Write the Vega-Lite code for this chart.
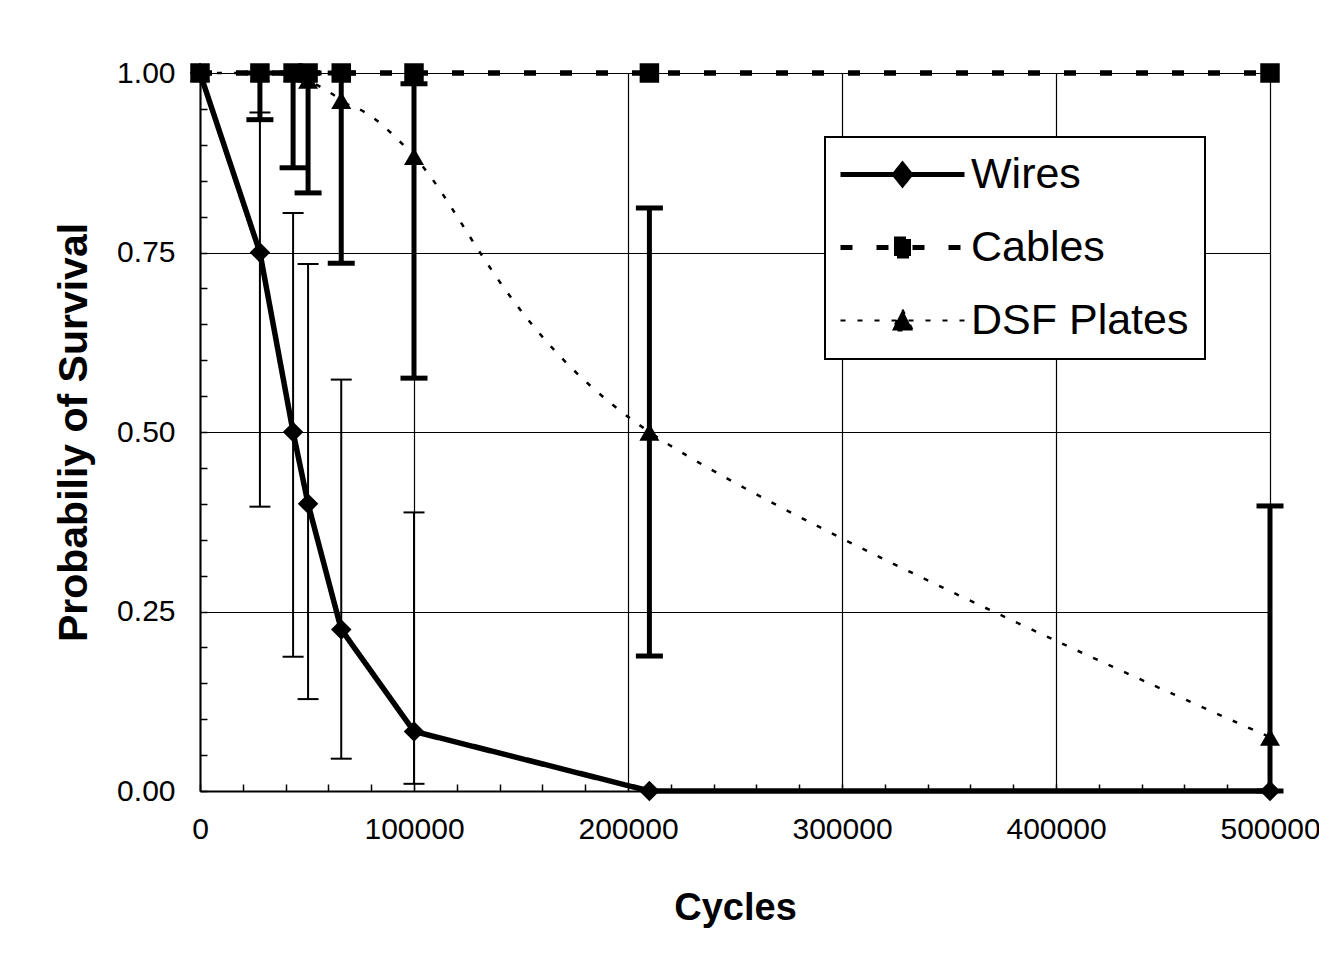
{
  "$schema": "https://vega.github.io/schema/vega-lite/v6.json",
  "width": 1070,
  "height": 718,
  "autosize": {"type": "none"},
  "padding": {"left": 200, "top": 73, "right": 49, "bottom": 181},
  "background": "white",
  "config": {
    "view": {"stroke": null},
    "font": "Liberation Sans",
    "axis": {"labelFont": "Liberation Sans", "titleFont": "Liberation Sans"},
    "legend": {"labelFont": "Liberation Sans"}
  },
  "datasets": {
    "pts": [
      {"series": "Wires", "x": 0, "y": 1.0},
      {"series": "Wires", "x": 28000, "y": 0.75},
      {"series": "Wires", "x": 43500, "y": 0.5},
      {"series": "Wires", "x": 50500, "y": 0.4},
      {"series": "Wires", "x": 66000, "y": 0.225},
      {"series": "Wires", "x": 100000, "y": 0.083},
      {"series": "Wires", "x": 210000, "y": 0.0},
      {"series": "Wires", "x": 500000, "y": 0.0},
      {"series": "Cables", "x": 0, "y": 1.0},
      {"series": "Cables", "x": 28000, "y": 1.0},
      {"series": "Cables", "x": 43500, "y": 1.0},
      {"series": "Cables", "x": 50500, "y": 1.0},
      {"series": "Cables", "x": 66000, "y": 1.0},
      {"series": "Cables", "x": 100000, "y": 1.0},
      {"series": "Cables", "x": 210000, "y": 1.0},
      {"series": "Cables", "x": 500000, "y": 1.0},
      {"series": "DSF Plates", "x": 0, "y": 1.0},
      {"series": "DSF Plates", "x": 28000, "y": 1.0},
      {"series": "DSF Plates", "x": 43500, "y": 1.0},
      {"series": "DSF Plates", "x": 50500, "y": 0.99},
      {"series": "DSF Plates", "x": 66000, "y": 0.962},
      {"series": "DSF Plates", "x": 100000, "y": 0.884},
      {"series": "DSF Plates", "x": 210000, "y": 0.5},
      {"series": "DSF Plates", "x": 500000, "y": 0.075}
    ],
    "err": [
      {"series": "Wires", "x": 28000, "lo": 0.396, "hi": 0.945},
      {"series": "Wires", "x": 43500, "lo": 0.187, "hi": 0.805},
      {"series": "Wires", "x": 50500, "lo": 0.128, "hi": 0.734},
      {"series": "Wires", "x": 66000, "lo": 0.045, "hi": 0.573},
      {"series": "Wires", "x": 100000, "lo": 0.01, "hi": 0.388},
      {"series": "DSF Plates", "x": 28000, "lo": 0.935, "hi": 1.0},
      {"series": "DSF Plates", "x": 43500, "lo": 0.868, "hi": 1.0},
      {"series": "DSF Plates", "x": 50500, "lo": 0.833, "hi": 1.0},
      {"series": "DSF Plates", "x": 66000, "lo": 0.735, "hi": 1.0},
      {"series": "DSF Plates", "x": 100000, "lo": 0.575, "hi": 0.985},
      {"series": "DSF Plates", "x": 210000, "lo": 0.188, "hi": 0.812},
      {"series": "DSF Plates", "x": 500000, "lo": 0.0, "hi": 0.397}
    ]
  },
  "layer": [
    {
      "data": {"name": "err"},
      "transform": [{"filter": "datum.series === 'Wires'"}],
      "mark": {"type": "rule", "color": "black", "strokeWidth": 2},
      "encoding": {
        "x": {
          "field": "x", "type": "quantitative", "title": "Cycles",
          "scale": {"domain": [0, 500000], "nice": false, "zero": false},
          "axis": {
            "title": "Cycles",
            "values": [0, 20000, 40000, 60000, 80000, 100000, 120000, 140000, 160000, 180000, 200000, 220000, 240000, 260000, 280000, 300000, 320000, 340000, 360000, 380000, 400000, 420000, 440000, 460000, 480000, 500000],
            "tickCount": 100,
            "format": "d",
            "labelExpr": "datum.value % 100000 === 0 ? datum.label : ''",
            "labelOverlap": false,
            "labelFlush": false,
            "labelFontSize": 30,
            "labelColor": "black",
            "labelPadding": 30,
            "grid": true,
            "gridColor": "black",
            "gridWidth": 1.2,
            "gridOpacity": {"condition": {"test": "datum.value % 100000 === 0", "value": 1}, "value": 0},
            "tickSize": -7,
            "tickColor": "black",
            "tickWidth": 1.5,
            "domainColor": "black",
            "domainWidth": 2,
            "titleFontSize": 38,
            "titleFontWeight": "bold",
            "titleColor": "black",
            "titlePadding": 45
          }
        },
        "y": {
          "field": "lo", "type": "quantitative", "title": "Probabiliy of Survival",
          "scale": {"domain": [0, 1], "nice": false, "zero": false},
          "axis": {
            "title": "Probabiliy of Survival",
            "values": [0, 0.05, 0.1, 0.15, 0.2, 0.25, 0.3, 0.35, 0.4, 0.45, 0.5, 0.55, 0.6, 0.65, 0.7, 0.75, 0.8, 0.85, 0.9, 0.95, 1],
            "tickCount": 100,
            "labelExpr": "round(datum.value * 100) % 25 === 0 ? format(datum.value, '.2f') : ''",
            "labelOverlap": false,
            "labelFlush": false,
            "labelFontSize": 30,
            "labelColor": "black",
            "labelPadding": 32,
            "grid": true,
            "gridColor": "black",
            "gridWidth": 1.2,
            "gridOpacity": {"condition": {"test": "round(datum.value * 100) % 25 === 0", "value": 1}, "value": 0},
            "tickSize": -7,
            "tickColor": "black",
            "tickWidth": 1.5,
            "domainColor": "black",
            "domainWidth": 2,
            "titleFontSize": 41,
            "titleFontWeight": "bold",
            "titleColor": "black",
            "titlePadding": 21
          }
        },
        "y2": {"field": "hi"}
      }
    },
    {
      "data": {"name": "err"},
      "transform": [{"filter": "datum.series === 'DSF Plates'"}],
      "mark": {"type": "rule", "color": "black", "strokeWidth": 5},
      "encoding": {
        "x": {"field": "x", "type": "quantitative", "title": "Cycles"},
        "y": {"field": "lo", "type": "quantitative", "title": "Probabiliy of Survival"},
        "y2": {"field": "hi"}
      }
    },
    {
      "data": {"name": "err"},
      "transform": [
        {"filter": "datum.series === 'Wires'"},
        {"fold": ["lo", "hi"], "as": ["end", "val"]}
      ],
      "mark": {"type": "tick", "orient": "horizontal", "color": "black", "size": 21, "thickness": 2, "opacity": 1},
      "encoding": {
        "x": {"field": "x", "type": "quantitative", "title": "Cycles"},
        "y": {"field": "val", "type": "quantitative", "title": "Probabiliy of Survival"}
      }
    },
    {
      "data": {"name": "err"},
      "transform": [
        {"filter": "datum.series === 'DSF Plates'"},
        {"fold": ["lo", "hi"], "as": ["end", "val"]}
      ],
      "mark": {"type": "tick", "orient": "horizontal", "color": "black", "size": 27, "thickness": 5, "opacity": 1},
      "encoding": {
        "x": {"field": "x", "type": "quantitative", "title": "Cycles"},
        "y": {"field": "val", "type": "quantitative", "title": "Probabiliy of Survival"}
      }
    },
    {
      "data": {"name": "pts"},
      "transform": [{"filter": "datum.series === 'DSF Plates'"}],
      "mark": {"type": "line", "interpolate": "cardinal", "color": "black", "strokeWidth": 2.5, "strokeCap": "butt"},
      "encoding": {
        "x": {"field": "x", "type": "quantitative", "title": "Cycles"},
        "y": {"field": "y", "type": "quantitative", "title": "Probabiliy of Survival"},
        "strokeDash": {
          "field": "series", "type": "nominal", "title": null,
          "scale": {"domain": ["Wires", "Cables", "DSF Plates"], "range": [[1, 0], [12, 24], [5, 12]]}
        }
      }
    },
    {
      "data": {"name": "pts"},
      "transform": [{"filter": "datum.series !== 'DSF Plates'"}],
      "mark": {"type": "line", "color": "black", "strokeWidth": 5.5, "strokeCap": "butt"},
      "encoding": {
        "x": {"field": "x", "type": "quantitative", "title": "Cycles"},
        "y": {"field": "y", "type": "quantitative", "title": "Probabiliy of Survival"},
        "strokeDash": {
          "field": "series", "type": "nominal", "title": null,
          "scale": {"domain": ["Wires", "Cables", "DSF Plates"], "range": [[1, 0], [12, 24], [5, 12]]},
          "legend": {
            "orient": "none",
            "legendX": 625,
            "legendY": 64,
            "title": null,
            "direction": "vertical",
            "padding": 16,
            "strokeColor": "black",
            "fillColor": "white",
            "labelFontSize": 43,
            "labelColor": "black",
            "labelLimit": 400,
            "symbolOffset": 40,
            "labelOffset": 47,
            "rowPadding": 29,
            "symbolSize": 400,
            "symbolStrokeColor": "black",
            "symbolFillColor": "black",
            "symbolStrokeWidth": 5,
            "encode": {
              "legend": {"update": {"strokeWidth": {"value": 2}}},
              "symbols": {
                "update": {
                  "shape": {"signal": "datum.value === 'Wires' ? 'M-6.2,0H6.2M0,-1L0.8,0L0,1L-0.8,0Z' : datum.value === 'Cables' ? 'M-6.2,0H6.2M-0.85,-0.85H0.85V0.85H-0.85Z' : 'M-6.2,0H6.2M0,-1.1L1.05,1L-1.05,1Z'"},
                  "size": {"value": 400},
                  "strokeWidth": {"signal": "datum.value === 'DSF Plates' ? 2 : 5"},
                  "strokeDash": {"signal": "datum.value === 'Wires' ? [1, 0] : datum.value === 'Cables' ? [12, 24] : [5, 12]"},
                  "fill": {"value": "black"},
                  "stroke": {"value": "black"},
                  "opacity": {"value": 1}
                }
              }
            }
          }
        }
      }
    },
    {
      "data": {"name": "pts"},
      "transform": [{"filter": "datum.series === 'Wires'"}],
      "mark": {"type": "point", "filled": true, "color": "black", "opacity": 1, "shape": "diamond", "size": 420},
      "encoding": {
        "x": {"field": "x", "type": "quantitative", "title": "Cycles"},
        "y": {"field": "y", "type": "quantitative", "title": "Probabiliy of Survival"}
      }
    },
    {
      "data": {"name": "pts"},
      "transform": [{"filter": "datum.series === 'Cables'"}],
      "mark": {"type": "point", "filled": true, "color": "black", "opacity": 1, "shape": "square", "size": 380},
      "encoding": {
        "x": {"field": "x", "type": "quantitative", "title": "Cycles"},
        "y": {"field": "y", "type": "quantitative", "title": "Probabiliy of Survival"}
      }
    },
    {
      "data": {"name": "pts"},
      "transform": [{"filter": "datum.series === 'DSF Plates'"}],
      "mark": {"type": "point", "filled": true, "color": "black", "opacity": 1, "shape": "triangle-up", "size": 400},
      "encoding": {
        "x": {"field": "x", "type": "quantitative", "title": "Cycles"},
        "y": {"field": "y", "type": "quantitative", "title": "Probabiliy of Survival"}
      }
    }
  ]
}
